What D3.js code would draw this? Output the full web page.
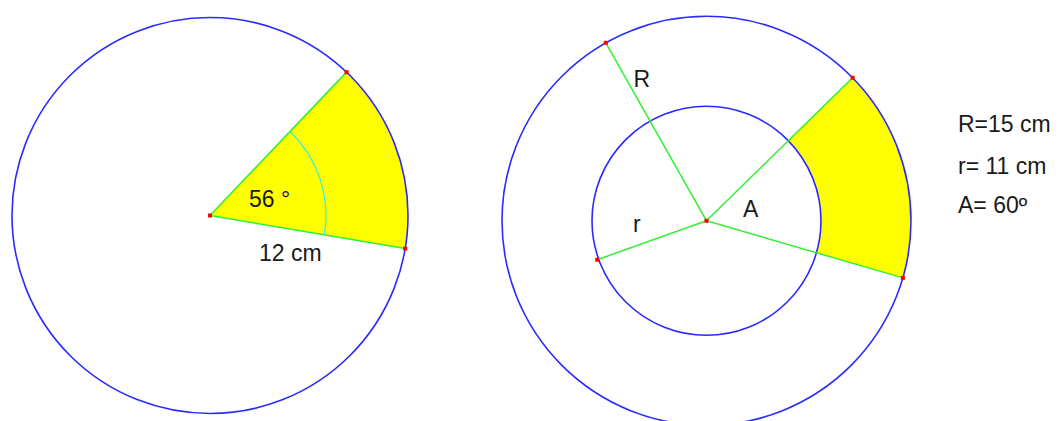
<!DOCTYPE html>
<html>
<head>
<meta charset="utf-8">
<script src="https://cdn.jsdelivr.net/npm/d3@7"></script>
<style>
  body { margin: 0; background: #fff; }
  text { font-family: "Liberation Sans", Arial, sans-serif; font-size: 23px; fill: #1a1a1a; }
</style>
</head>
<body>
<div class="chart"></div>
<script>
const width = 1060;
const height = 421;

// values
const sectorAngles = [56, 60];          // degrees, left sector / right annulus sector
const radiiCm = [12, 15, 11];           // left radius, outer R, inner r
const angleLabels = ['56 °', 'A'];
const radiusLabels = ['12 cm', 'R', 'r'];
const legendLines = ['R=15 cm', 'r= 11 cm', 'A= 60º'];

const blue = '#2a2aff', green = '#33ee33', yellow = '#ffff00', red = '#ff0000', cyan = '#33eeee';
const toRad = d3.scaleLinear().domain([0, 360]).range([0, 2 * Math.PI]);

const svg = d3.select('.chart')
  .append('svg')
  .attr('width', width)
  .attr('height', height);

// ---- left figure: circle with a sector
const left = {cx: 210, cy: 215.5, r: 198, start: 43.6};
const leftScale = d3.scaleLinear().domain([0, radiiCm[0]]).range([0, left.r]);
const g1 = svg.append('g').attr('transform', `translate(${left.cx},${left.cy})`);

const a0 = left.start, a1 = left.start + sectorAngles[0];
g1.append('path')
  .attr('d', d3.arc()({innerRadius: 0, outerRadius: leftScale(radiiCm[0]), startAngle: toRad(a0), endAngle: toRad(a1)}))
  .attr('fill', yellow);

g1.append('circle').attr('r', leftScale(radiiCm[0]))
  .attr('fill', 'none').attr('stroke', blue).attr('stroke-width', 1.6);

// angle mark
g1.append('path')
  .attr('d', d3.arc()({innerRadius: 116, outerRadius: 116, startAngle: toRad(a0), endAngle: toRad(a1)}))
  .attr('fill', 'none').attr('stroke', cyan).attr('stroke-width', 1.2);

const lp = [a0, a1].map(a => d3.pointRadial(toRad(a), leftScale(radiiCm[0])));
lp.forEach(p => {
  g1.append('line').attr('x1', 0).attr('y1', 0).attr('x2', p[0]).attr('y2', p[1])
    .attr('stroke', green).attr('stroke-width', 1.5);
});
[[0, 0], ...lp].forEach(p => {
  g1.append('rect').attr('x', p[0] - 2).attr('y', p[1] - 2).attr('width', 4).attr('height', 4).attr('fill', red);
});

g1.append('text').attr('x', 39).attr('y', -8.5).text(angleLabels[0]);
g1.append('text').attr('x', 49).attr('y', 45).text(radiusLabels[0]);

// ---- right figure: annulus with a sector
const right = {cx: 706.5, cy: 220.8, R: 204.5, r: 114.5, start: 45.6, Rline: -29.5, rline: -109.6};
const rScale = d3.scaleLinear().domain([0, radiiCm[2], radiiCm[1]]).range([0, right.r, right.R]);
const g2 = svg.append('g').attr('transform', `translate(${right.cx},${right.cy})`);

const b0 = right.start, b1 = right.start + sectorAngles[1] + 0.6;
g2.append('path')
  .attr('d', d3.arc()({innerRadius: rScale(radiiCm[2]), outerRadius: rScale(radiiCm[1]), startAngle: toRad(b0), endAngle: toRad(b1)}))
  .attr('fill', yellow);

[radiiCm[1], radiiCm[2]].forEach(v => {
  g2.append('circle').attr('r', rScale(v))
    .attr('fill', 'none').attr('stroke', blue).attr('stroke-width', 1.6);
});

const rp = [
  d3.pointRadial(toRad(b0), rScale(radiiCm[1])),
  d3.pointRadial(toRad(b1), rScale(radiiCm[1])),
  d3.pointRadial(toRad(right.Rline), rScale(radiiCm[1])),
  d3.pointRadial(toRad(right.rline), rScale(radiiCm[2]) + 1.5)
];
rp.forEach(p => {
  g2.append('line').attr('x1', 0).attr('y1', 0).attr('x2', p[0]).attr('y2', p[1])
    .attr('stroke', green).attr('stroke-width', 1.5);
});
[[0, 0], ...rp].forEach(p => {
  g2.append('rect').attr('x', p[0] - 2).attr('y', p[1] - 2).attr('width', 4).attr('height', 4).attr('fill', red);
});

g2.append('text').attr('x', 36.5).attr('y', -3.5).text(angleLabels[1]);
g2.append('text').attr('x', -73).attr('y', -133.5).text(radiusLabels[1]);
g2.append('text').attr('x', -73.5).attr('y', 11).text(radiusLabels[2]);

// ---- legend
svg.append('g').selectAll('text')
  .data(legendLines)
  .join('text')
  .attr('x', 958)
  .attr('y', (d, i) => [132, 174, 213][i])
  .text(d => d);
</script>
</body>
</html>
